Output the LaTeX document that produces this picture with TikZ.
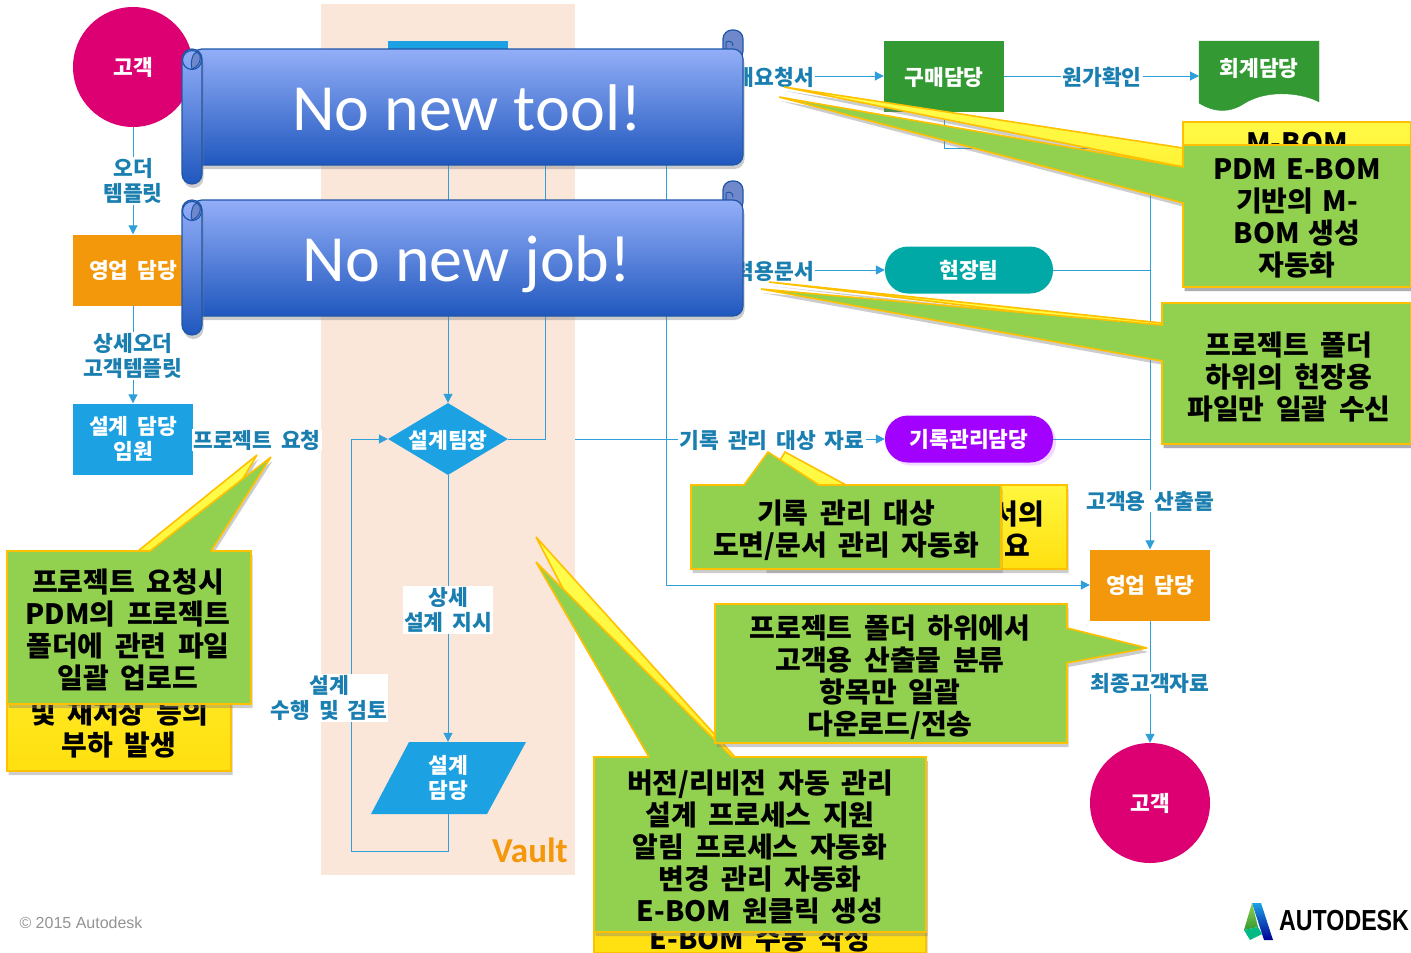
\documentclass[tikz,border=0pt]{standalone}
\usepackage{fontspec}
\setmainfont{Noto Sans CJK KR}[WordSpace=1.8]
\newfontfamily\latinfont{Carlito}
\newfontfamily\arialfont{Liberation Sans}
\usetikzlibrary{arrows.meta,shapes.geometric,shadows}

\definecolor{linkblue}{HTML}{2E9FD8}
\definecolor{labelblue}{HTML}{1A7FB0}
\definecolor{boxblue}{HTML}{1CA1E2}
\definecolor{boxorange}{HTML}{F2980A}
\definecolor{boxgreen}{HTML}{339933}
\definecolor{boxteal}{HTML}{00A9A5}
\definecolor{boxpurple}{HTML}{A200FF}
\definecolor{boxpink}{HTML}{DC0073}
\definecolor{vaultbg}{HTML}{FBE6DA}
\definecolor{calloutedge}{HTML}{FFC000}
\definecolor{calloutgreen}{HTML}{92D050}
\definecolor{calloutyellowtop}{HTML}{FFFF50}
\definecolor{calloutyellowbot}{HTML}{FFE010}
\definecolor{bannertop}{HTML}{93AEF8}
\definecolor{bannerbot}{HTML}{2058BE}
\definecolor{banneredge}{HTML}{1F56A8}
\definecolor{bannercurl}{HTML}{6F88C9}

\tikzset{
	link/.style={draw=linkblue, line width=1pt},
	linkarrow/.style={link, -{Triangle[length=9pt,width=9pt]}},
	whitetext/.style={text=white, font=\bfseries\fontsize{21.5}{25}\selectfont, align=center, inner sep=0pt},
	flowbox/.style={whitetext, minimum width=120pt, minimum height=71pt},
	pillbox/.style={whitetext, rounded corners=23pt, minimum width=168pt, minimum height=47pt},
	flowlabel/.style={text=labelblue, font=\bfseries\fontsize{21.5}{25}\selectfont, align=center, inner sep=1pt},
	callshadow/.style={drop shadow={shadow xshift=1.5pt, shadow yshift=-4pt, opacity=0.4}},
	greencall/.style={draw=calloutedge, line width=1.6pt, miter limit=2, fill=calloutgreen, callshadow},
	yellowcall/.style={draw=calloutedge, line width=1.6pt, miter limit=2, top color=calloutyellowtop, bottom color=calloutyellowbot, callshadow},
	calltext/.style={text=black, font=\bfseries\fontsize{28}{32}\selectfont, align=center, inner sep=0pt, yshift=-2pt},
	roller/.style={draw=banneredge, line width=1.2pt, top color=bannertop, bottom color=bannerbot}
}

\begin{document}
\begin{tikzpicture}[x=1pt, y=-1pt]
	\useasboundingbox (0,0) rectangle (1411,953);

	\fill[vaultbg] (321,4) rectangle (575,875);
	\node (Vault) [text=boxorange, font=\bfseries\fontsize{35}{38}\selectfont, inner sep=0pt] at (530,850) {\latinfont Vault};

	\node (CustomerIn) [circle, fill=boxpink, minimum size=120pt, whitetext] at (133,67) {고객};
	\node (OrderTemplate) [flowlabel] at (133,181) {오더\\템플릿};
	\node (SalesIn) [flowbox, fill=boxorange] at (133,270) {영업 담당};
	\node (DetailTemplate) [flowlabel] at (133,356) {상세오더\\고객템플릿};
	\node (Executive) [flowbox, fill=boxblue] at (133,439) {설계 담당\\임원};
	\node (ProjectRequest) [flowlabel, fill=white] at (257,440) {프로젝트 요청};
	\draw[link] (CustomerIn) -- (OrderTemplate);
	\draw[linkarrow] (OrderTemplate) -- (SalesIn);
	\draw[link] (SalesIn) -- (DetailTemplate);
	\draw[linkarrow] (DetailTemplate) -- (Executive);

	\node (TopBox) [flowbox, fill=boxblue] at (448,76) {};
	\node (Chief) [diamond, fill=boxblue, minimum width=120pt, minimum height=72pt, inner sep=0pt] at (448,439) {};
	\node (ChiefText) [whitetext] at (448,440) {설계팀장};
	\fill[boxblue] (409,742) -- (526,742) -- (487,814) -- (371,814) -- cycle;
	\node (Designer) [whitetext, minimum height=72pt] at (448,778) {설계\\담당};
	\node (DetailOrder) [flowlabel, fill=white] at (448,610) {상세\\설계 지시};
	\node (DoReview) [flowlabel, fill=white] at (329,698) {설계\\수행 및 검토};
	\coordinate (LoopLow) at (448,851);
	\coordinate (LoopLeft) at (351,851);
	\coordinate (LoopUp) at (351,439);
	\coordinate (ChiefRight) at (545,439);
	\coordinate (ChiefTop) at (545,76);
	\draw[linkarrow] (TopBox) -- (Chief);
	\draw[link] (Chief) -- (ChiefRight) -- (ChiefTop);
	\draw[link] (Chief) -- (DetailOrder);
	\draw[linkarrow] (DetailOrder) -- (Designer);
	\draw[link] (Designer.south) -- (LoopLow) -- (LoopLeft) -- (DoReview.south -| LoopLeft);
	\draw[linkarrow] (LoopLeft |- DoReview.north) -- (LoopUp) -- (Chief);

	\node (PurchaseDoc) [flowlabel, anchor=east] at (815,77) {구매요청서};
	\node (PrintDoc) [flowlabel, anchor=east] at (815,271) {출력용문서};
	\node (Purchase) [flowbox, fill=boxgreen] at (944,76) {};
	\node (PurchaseText) [whitetext] at (944,77) {구매담당};
	\node (CostCheck) [flowlabel] at (1102,77) {원가확인};
	\coordinate (AccountingIn) at (1199,76);
	\filldraw[boxgreen] (1199,41) -- (1319,41) -- (1319,102) .. controls (1305,94) and (1270,88) .. (1245,103) .. controls (1230,113) and (1215,113) .. (1199,103) -- cycle;
	\node (Accounting) [whitetext] at (1259,68) {회계담당};
	\node (Field) [pillbox, fill=boxteal] at (969,270) {현장팀};
	\node (RecordTarget) [flowlabel] at (772,440) {기록 관리 대상 자료};
	\node (RecordMgr) [pillbox, fill=boxpurple, drop shadow={shadow xshift=3pt, shadow yshift=-3pt, opacity=0.15, fill=boxpurple}] at (969,439) {기록관리담당};
	\node (SalesOut) [flowbox, fill=boxorange] at (1150,585) {영업 담당};
	\node (CustomerDoc) [flowlabel, fill=white] at (1150,501) {고객용 산출물};
	\node (FinalDoc) [flowlabel, fill=white] at (1150,683) {최종고객자료};
	\node (CustomerOut) [circle, fill=boxpink, minimum size=120pt, whitetext] at (1150,803) {고객};
	\coordinate (RecordStart) at (575,439);
	\coordinate (SplitTop) at (666,76);
	\coordinate (SplitDown) at (666,585);
	\coordinate (SplitField) at (666,270);
	\coordinate (PurchaseDown) at (944,148);
	\coordinate (MergeTop) at (1150,148);
	\coordinate (MergeField) at (1150,270);
	\coordinate (MergeRecord) at (1150,439);
	\draw[link] (TopBox) -- (PurchaseDoc.west |- TopBox);
	\draw[linkarrow] (PurchaseDoc.east |- Purchase) -- (Purchase);
	\draw[link] (Purchase) -- (CostCheck.west |- Purchase);
	\draw[linkarrow] (CostCheck.east |- AccountingIn) -- (AccountingIn);
	\draw[linkarrow] (SplitTop) -- (SplitDown) -- (SalesOut);
	\draw[link] (SplitField) -- (PrintDoc.west |- SplitField);
	\draw[linkarrow] (PrintDoc.east |- Field) -- (Field);
	\draw[link] (RecordStart) -- (RecordTarget.west |- RecordStart);
	\draw[linkarrow] (RecordTarget.east |- RecordMgr) -- (RecordMgr);
	\draw[link] (Purchase) -- (PurchaseDown) -- (MergeTop) -- (CustomerDoc);
	\draw[linkarrow] (CustomerDoc) -- (SalesOut);
	\draw[link] (Field) -- (MergeField);
	\draw[link] (RecordMgr) -- (MergeRecord);
	\draw[link] (SalesOut) -- (FinalDoc);
	\draw[linkarrow] (FinalDoc) -- (CustomerOut);

	% callouts, yellow ones lie behind the green ones
	\draw[yellowcall] (1183,122) -- (1411,122) -- (1411,287) -- (1183,287) -- (1183,167) -- (784,87) -- (1183,148) -- cycle;
	\node (MBom) [calltext] at (1297,141) {M-BOM};
	\draw[greencall] (1183,145) -- (1411,145) -- (1411,287) -- (1183,287) -- (1183,203) -- (779,97) -- (1183,167) -- cycle;
	\node (MBomNote) [calltext, text width=210pt] at (1297,216) {PDM E-BOM\\기반의 M-\\BOM 생성\\자동화};

	\draw[yellowcall] (1162,303) -- (1411,303) -- (1411,444) -- (1162,444) -- (1162,329) -- (769,282) -- (1162,323) -- cycle;
	\draw[greencall] (1162,303) -- (1411,303) -- (1411,444) -- (1162,444) -- (1162,361) -- (761,289) -- (1162,325) -- cycle;
	\node (FieldNote) [calltext] at (1289,375) {프로젝트 폴더\\하위의 현장용\\파일만 일괄 수신};

	\draw[yellowcall] (765,485) -- (785,452) -- (846,485) -- (1067,485) -- (1067,569) -- (765,569) -- cycle;
	\node (RecordHidden) [calltext, anchor=east] at (1044,513) {도면/문서의};
	\node (RecordHiddenTwo) [calltext, anchor=east] at (1030,544) {필요};
	\draw[greencall] (691,485) -- (744,485) -- (768,452) -- (819,485) -- (1001,485) -- (1001,569) -- (691,569) -- cycle;
	\node (RecordNote) [calltext] at (846,528) {기록 관리 대상\\도면/문서 관리 자동화};

	\draw[yellowcall] (7,551) -- (138,551) -- (257,455) -- (200,551) -- (231,551) -- (231,771) -- (7,771) -- cycle;
	\node (LoadNote) [calltext] at (119,727) {및 재저장 등의\\부하 발생};
	\draw[greencall] (7,551) -- (150,551) -- (271,457) -- (211,551) -- (251,551) -- (251,704) -- (7,704) -- cycle;
	\node (UploadNote) [calltext] at (128,628) {프로젝트 요청시\\PDM의 프로젝트\\폴더에 관련 파일\\일괄 업로드};

	\draw[yellowcall] (594,757) -- (651,757) -- (536,537) -- (735,757) -- (926,757) -- (926,953) -- (594,953) -- cycle;
	\node (ManualNote) [calltext] at (760,937) {E-BOM 수동 작성};
	\draw[greencall] (594,757) -- (649,757) -- (536,562) -- (732,757) -- (926,757) -- (926,932) -- (594,932) -- cycle;
	\node (VaultNote) [calltext] at (760,845) {버전/리비전 자동 관리\\설계 프로세스 지원\\알림 프로세스 자동화\\변경 관리 자동화\\E-BOM 원클릭 생성};

	\draw[greencall] (715,604) -- (1067,604) -- (1067,628) -- (1147,648) -- (1067,663) -- (1067,743) -- (715,743) -- cycle;
	\node (DownloadNote) [calltext] at (890,675) {프로젝트 폴더 하위에서\\고객용 산출물 분류\\항목만 일괄\\다운로드/전송};

	% scroll banners
	\foreach \Y/\Name/\Say in {0/BannerTool/No new tool!, 151/BannerJob/No new job!} {
		\begin{scope}[shift={(0,\Y)}]
			\draw[draw=banneredge, line width=1.2pt, fill=bannercurl, rounded corners=9pt] (723,30) -- (743,30) -- (743,60) -- (723,60) -- cycle;
			\draw[draw=banneredge, line width=1pt] (726,49) -- (726,42) .. controls (730,40) and (733,42) .. (733,46);
			\draw[roller, rounded corners=10pt, callshadow] (192,49) -- (743,49) -- (743,165) -- (192,165) -- cycle;
			\draw[roller, rounded corners=10pt, callshadow] (182,49) -- (202,49) -- (202,184) -- (182,184) -- cycle;
			\draw[banneredge, line width=1.2pt] (192,60) circle[x radius=9.5pt, y radius=9.5pt];
			\filldraw[fill=bannercurl, draw=banneredge, line width=1pt] (192,69) .. controls (190,62) and (193,52) .. (197,52) .. controls (202,54) and (202,65) .. (192,69);
			\node (\Name) [text=white, font=\fontsize{66}{70}\selectfont, inner sep=0pt, anchor=base] at (467,130) {\latinfont \Say};
		\end{scope}
	}

	\node (Copyright) [text=gray!85, font=\arialfont\fontsize{16}{18}\selectfont, inner sep=0pt] at (81,923) {© 2015 Autodesk};
	\shade[top color=boxblue, bottom color=blue!60!black] (1252,903) -- (1261,903) -- (1273,940) -- (1264,940) -- cycle;
	\shade[top color=calloutgreen, bottom color=boxgreen] (1252,903) -- (1244,930) -- (1258,927) -- cycle;
	\fill[boxteal!80!green] (1244,930) -- (1258,927) -- (1262,934) -- (1250,940) -- cycle;
	\node (Logo) [text=black, font=\arialfont\bfseries\fontsize{29}{32}\selectfont, inner sep=0pt, anchor=west] at (1279,921) {\scalebox{0.8}[1]{AUTODESK}};
\end{tikzpicture}
\end{document}
